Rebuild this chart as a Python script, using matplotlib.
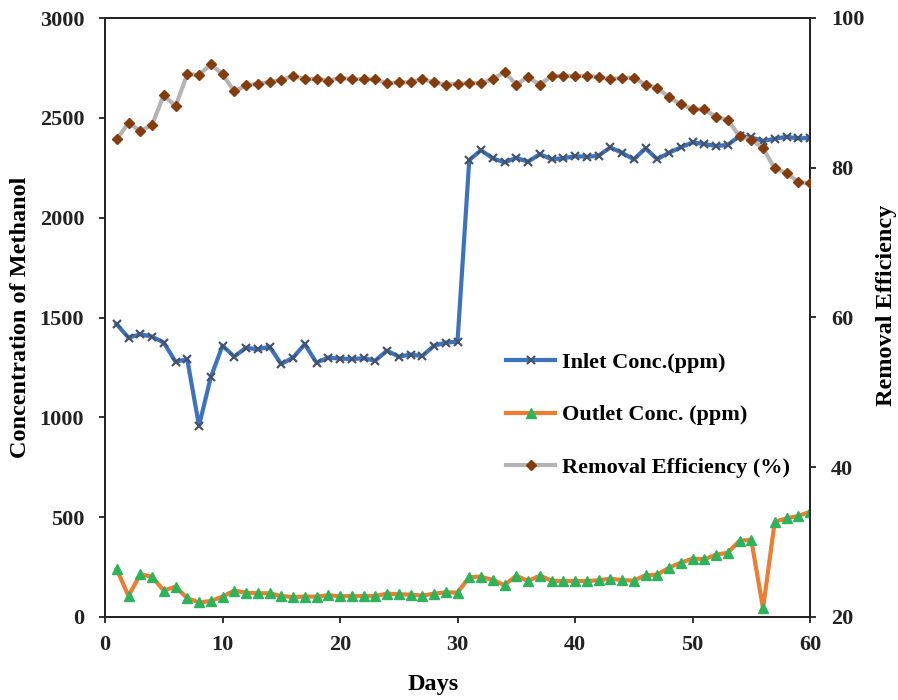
import matplotlib
matplotlib.use("Agg")
import matplotlib.pyplot as plt
from matplotlib.lines import Line2D

days = list(range(1, 61))
inlet = [1466, 1399, 1416, 1404, 1374, 1279, 1290, 958, 1200, 1359,
         1304, 1349, 1340, 1354, 1267, 1299, 1366, 1274, 1299, 1294,
         1292, 1296, 1284, 1334, 1304, 1314, 1307, 1359, 1374, 1379,
         2288, 2338, 2297, 2277, 2300, 2280, 2318, 2293, 2297, 2308,
         2305, 2310, 2352, 2325, 2292, 2347, 2293, 2325, 2352, 2377,
         2369, 2359, 2364, 2409, 2402, 2384, 2395, 2405, 2397, 2400]
outlet = [239, 105, 214, 202, 132, 152, 94, 73, 80, 102,
          132, 122, 119, 119, 105, 100, 102, 102, 109, 104,
          105, 105, 105, 117, 114, 112, 107, 117, 124, 122,
          200, 202, 185, 160, 207, 180, 207, 182, 180, 180,
          180, 184, 192, 185, 182, 209, 212, 247, 272, 292,
          289, 312, 322, 382, 387, 43, 477, 494, 506, 527]
efficiency = [83.8, 86.0, 84.9, 85.7, 89.7, 88.2, 92.5, 92.4, 93.8, 92.5,
              90.2, 91.0, 91.2, 91.45, 91.7, 92.25, 91.85, 91.9, 91.6, 92.0,
              91.85, 91.8, 91.8, 91.3, 91.4, 91.4, 91.85, 91.4, 91.1, 91.2,
              91.3, 91.3, 91.8, 92.8, 91.1, 92.1, 91.1, 92.25, 92.25, 92.25,
              92.3, 92.1, 91.85, 92.0, 92.05, 91.1, 90.7, 89.4, 88.5, 87.8,
              87.8, 86.8, 86.4, 84.2, 83.75, 82.6, 79.9, 79.3, 78.1, 77.9]

labels = ["Inlet Conc.(ppm)", "Outlet Conc. (ppm)", "Removal Efficiency (%)"]
xticks = [0, 10, 20, 30, 40, 50, 60]
yticks_left = [0, 500, 1000, 1500, 2000, 2500, 3000]
yticks_right = [20, 40, 60, 80, 100]

plt.rcParams['font.family'] = ['Liberation Serif', 'DejaVu Serif']
plt.rcParams['font.weight'] = 'bold'

fig = plt.figure(figsize=(8.98, 7.0), dpi=100)
ax = fig.add_axes([105/898, 83/700, 705/898, 599/700])
ax2 = ax.twinx()

blue = '#3D72BE'
orange = '#ED7D31'
gray = '#B4B4B4'
ax.plot(days, inlet, color=blue, lw=3, marker='x', ms=6, mew=1.6,
        mec='#44546A', zorder=3)
ax.plot(days, outlet, color=orange, lw=3, marker='^', ms=7,
        mfc='#2DB35A', mec='#2DB35A', zorder=3)
ax2.plot(days, efficiency, color=gray, lw=3, marker='D', ms=5.5,
         mfc='#843C0C', mec='#843C0C', zorder=3)

ax.set_xlim(0, 60)
ax.set_ylim(0, 3000)
ax2.set_ylim(20, 100)
ax.set_xticks(xticks)
ax.set_yticks(yticks_left)
ax2.set_yticks(yticks_right)

for a in (ax, ax2):
    for s in a.spines.values():
        s.set_linewidth(1.3)
        s.set_color('#222222')
    a.tick_params(direction='out', length=4, width=1.3, labelsize=16,
                  colors='#222222', pad=11)
ax.tick_params(axis='x', pad=9)

ax.set_xlabel('Days', fontsize=17.5, fontweight='bold')
ax.xaxis.set_label_coords(0.465, -0.095)
ax.set_ylabel('Concentration of Methanol', fontsize=17.5, fontweight='bold')
ax.yaxis.set_label_coords(-0.105, 0.5)
ax2.set_ylabel('Removal Efficiency', fontsize=17.5, fontweight='bold')
ax2.yaxis.set_label_coords(1.093, 0.52)

handles = [
    Line2D([], [], color=blue, lw=3, marker='x', ms=6, mew=1.6, mec='#44546A'),
    Line2D([], [], color=orange, lw=3, marker='^', ms=7, mfc='#2DB35A', mec='#2DB35A'),
    Line2D([], [], color=gray, lw=3, marker='D', ms=5.5, mfc='#843C0C', mec='#843C0C'),
]
leg = ax2.legend(handles, labels, loc='upper left',
                 bbox_to_anchor=(390/705, (617-341)/599), frameon=False,
                 fontsize=16, labelspacing=1.45, handlelength=2.2,
                 handletextpad=0.3, borderpad=0)

fig.savefig('out.png', dpi=100)
